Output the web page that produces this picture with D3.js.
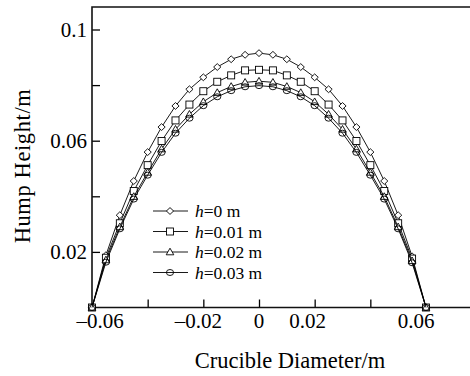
<!DOCTYPE html>
<html>
<head>
<meta charset="utf-8">
<script src="https://cdn.jsdelivr.net/npm/d3@7"></script>
<style>
  body { margin: 0; background: #fff; }
  svg { display: block; font-family: "Liberation Serif", "Times New Roman", serif; }
</style>
</head>
<body>
<script>
// chart data
const diameters = [-0.06, -0.055, -0.05, -0.045, -0.04, -0.035, -0.03, -0.025, -0.02, -0.015, -0.01, -0.005, 0,
                   0.005, 0.01, 0.015, 0.02, 0.025, 0.03, 0.035, 0.04, 0.045, 0.05, 0.055, 0.06];
const hump_h0 = [0, 0.0188, 0.0332, 0.0455, 0.0559, 0.0649, 0.0725, 0.0785, 0.0828, 0.0865, 0.0893, 0.0909, 0.0915,
                 0.0909, 0.0893, 0.0865, 0.0828, 0.0785, 0.0725, 0.0649, 0.0559, 0.0455, 0.0332, 0.0184, 0];
const hump_h001 = [0, 0.0179, 0.0303, 0.0419, 0.0512, 0.0599, 0.0673, 0.0730, 0.0778, 0.0812, 0.0835, 0.0853, 0.0855,
                   0.0853, 0.0835, 0.0812, 0.0778, 0.0730, 0.0673, 0.0599, 0.0512, 0.0419, 0.0303, 0.0176, 0];
const hump_h002 = [0, 0.0171, 0.0290, 0.0399, 0.0486, 0.0570, 0.0641, 0.0695, 0.0740, 0.0773, 0.0795, 0.0810, 0.0814,
                   0.0810, 0.0795, 0.0773, 0.0740, 0.0695, 0.0641, 0.0570, 0.0486, 0.0399, 0.0290, 0.0168, 0];
const hump_h003 = [0, 0.0163, 0.0283, 0.0390, 0.0476, 0.0558, 0.0627, 0.0681, 0.0726, 0.0758, 0.0780, 0.0794, 0.0798,
                   0.0794, 0.0780, 0.0758, 0.0726, 0.0681, 0.0627, 0.0558, 0.0476, 0.0390, 0.0283, 0.0161, 0];
const seriesNames = ["0", "0.01", "0.02", "0.03"];
const seriesMarkers = ["diamond", "square", "triangle", "circle"];
const xTicks = [-0.04, -0.02, 0, 0.02, 0.04];
const xLabels = [-0.06, -0.02, 0, 0.02, 0.06];
const yTicks = [0.02, 0.04, 0.06, 0.08, 0.1];
const yLabels = [0.02, 0.06, 0.1];

// ===============================
// SETUP
// ===============================
const width = 470, height = 376;
const plotLeft = 92, plotBottom = 307.5, plotTop = 7;

const svg = d3.select("body").append("svg")
  .attr("width", width)
  .attr("height", height);

const x = d3.scaleLinear().domain([-0.06, 0.06]).range([plotLeft, 426]);
const y = d3.scaleLinear().domain([0, 0.1]).range([plotBottom, 29.5]);

const fmt = v => v === 0 ? "0" : (v < 0 ? "\u2013" : "") + String(Math.abs(v));

// ===============================
// AXES
// ===============================
// x axis, ticks pointing inward
const xAxis = svg.append("g")
  .attr("transform", `translate(0,${plotBottom})`)
  .call(d3.axisTop(x).tickValues(xTicks).tickSize(8).tickFormat(""));
xAxis.select(".domain").remove();
xAxis.selectAll("line").attr("stroke", "#000").attr("stroke-width", 1.3);

const yAxis = svg.append("g")
  .attr("transform", `translate(${plotLeft},0)`)
  .call(d3.axisRight(y).tickValues(yTicks).tickSize(8).tickFormat(""));
yAxis.select(".domain").remove();
yAxis.selectAll("line").attr("stroke", "#000").attr("stroke-width", 1.3);

// frame: top, left, bottom
svg.append("path")
  .attr("d", `M${width},${plotTop}H${plotLeft}V${plotBottom}H${width}`)
  .attr("fill", "none")
  .attr("stroke", "#111")
  .attr("stroke-width", 1.6);

// tick labels (nudged like the original)
const xLabelShift = { "-0.06": 8, "-0.02": -5, "0": 0, "0.02": -7, "0.06": -10 };
svg.append("g").selectAll("text")
  .data(xLabels)
  .join("text")
  .attr("x", d => x(d) + xLabelShift[String(d)])
  .attr("y", 328)
  .attr("text-anchor", "middle")
  .attr("font-size", 21)
  .text(fmt);

svg.append("g").selectAll("text")
  .data(yLabels)
  .join("text")
  .attr("x", 87)
  .attr("y", d => y(d) + 7)
  .attr("text-anchor", "end")
  .attr("font-size", 21)
  .text(fmt);

// axis titles
svg.append("text")
  .attr("x", 290)
  .attr("y", 368)
  .attr("text-anchor", "middle")
  .attr("font-size", 22.5)
  .text("Crucible Diameter/m");

svg.append("text")
  .attr("transform", "translate(30,166) rotate(-90)")
  .attr("text-anchor", "middle")
  .attr("font-size", 22.5)
  .attr("letter-spacing", 0.6)
  .text("Hump Height/m");

// ===============================
// MARKERS
// ===============================
function drawMarker(g, type) {
  if (type === "diamond") {
    g.append("path").attr("d", "M0,-3.4L3.6,0L0,3.4L-3.6,0Z").attr("fill", "#fff");
  } else if (type === "square") {
    g.append("rect").attr("x", -3.5).attr("y", -3.5).attr("width", 7).attr("height", 7).attr("fill", "#fff");
  } else if (type === "triangle") {
    g.append("path").attr("d", "M0,-3.8L3.8,2.8L-3.8,2.8Z").attr("fill", "#fff");
  } else {
    g.append("ellipse").attr("rx", 3.6).attr("ry", 3).attr("fill", "none");
  }
  g.selectAll("*").attr("stroke", "#000").attr("stroke-width", 0.9);
}

// ===============================
// SERIES
// ===============================
const allSeries = [hump_h0, hump_h001, hump_h002, hump_h003];
const line = d3.line().x((d, i) => x(diameters[i])).y(d => y(d));

allSeries.forEach((vals, si) => {
  const g = svg.append("g");
  g.append("path")
    .datum(vals)
    .attr("d", line)
    .attr("fill", "none")
    .attr("stroke", "#000")
    .attr("stroke-width", 0.9);
  vals.forEach((v, i) => {
    const m = g.append("g").attr("transform", `translate(${x(diameters[i])},${y(v)})`);
    drawMarker(m, seriesMarkers[si]);
  });
});

// ===============================
// LEGEND
// ===============================
const legend = svg.append("g").attr("transform", "translate(153,211)");
seriesNames.forEach((name, i) => {
  const row = legend.append("g").attr("transform", `translate(0,${i * 20.5})`);
  row.append("line").attr("x1", 0).attr("x2", 35).attr("stroke", "#000").attr("stroke-width", 0.9);
  const m = row.append("g").attr("transform", "translate(17,0)");
  drawMarker(m, seriesMarkers[i]);
  const t = row.append("text").attr("x", 42).attr("y", 6).attr("font-size", 17.5);
  t.append("tspan").attr("font-style", "italic").text("h");
  t.append("tspan").text(`=${name} m`);
});
</script>
</body>
</html>
